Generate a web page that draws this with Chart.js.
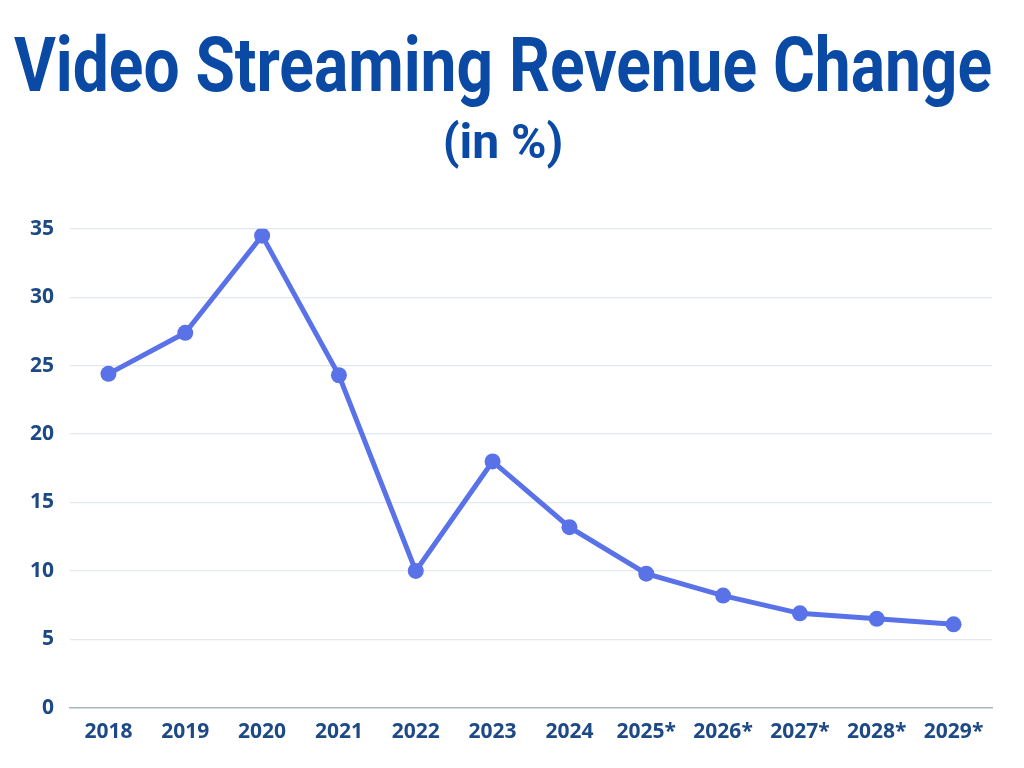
<!DOCTYPE html>
<html>
<head>
<meta charset="utf-8">
<script src="https://cdn.jsdelivr.net/npm/chart.js@4"></script>
<style>
  html, body { margin: 0; padding: 0; background: #fff; }
  #wrap { position: relative; width: 1024px; height: 768px; }
</style>
</head>
<body>
<div id="wrap"><canvas id="chart"></canvas></div>
<script>
const years = ['2018', '2019', '2020', '2021', '2022', '2023', '2024', '2025*', '2026*', '2027*', '2028*', '2029*'];
const revenueChange = [24.4, 27.4, 34.5, 24.3, 10.0, 18.0, 13.2, 9.8, 8.2, 6.9, 6.5, 6.1];
const yTicks = [0, 5, 10, 15, 20, 25, 30, 35];

const navy = '#1d4a86';
const lineBlue = '#5a72e8';

const ctx = document.getElementById('chart').getContext('2d');
new Chart(ctx, {
    type: 'line',
    data: {
        labels: years,
        datasets: [{
            label: 'Revenue change',
            data: revenueChange,
            borderColor: lineBlue,
            backgroundColor: lineBlue,
            borderWidth: 5,
            pointRadius: 8,
            pointHoverRadius: 8,
            pointBackgroundColor: lineBlue,
            pointBorderWidth: 0,
            tension: 0,
            fill: false
        }]
    },
    options: {
        responsive: true,
        maintainAspectRatio: false,
        animation: false,
        layout: {
            padding: { left: 14, right: 32, top: 10, bottom: 19 }
        },
        plugins: {
            legend: { display: false },
            tooltip: { enabled: false },
            title: {
                display: true,
                text: 'Video Streaming Revenue Change',
                color: '#0a4aa5',
                font: { family: '"Roboto", sans-serif', size: 76, weight: 'bold' },
                padding: { top: 16, bottom: 0 }
            },
            subtitle: {
                display: true,
                text: '(in %)',
                color: '#0a4aa5',
                font: { family: '"Roboto", sans-serif', size: 48, weight: 'bold' },
                padding: { top: 0, bottom: 54 }
            }
        },
        scales: {
            x: {
                offset: true,
                grid: { display: false },
                border: { display: true, color: '#a8b6c9', width: 1.5 },
                ticks: {
                    color: navy,
                    font: { family: '"Open Sans", sans-serif', size: 21, weight: 'bold' },
                    padding: 4,
                    maxRotation: 0
                }
            },
            y: {
                min: 0,
                max: 35,
                afterBuildTicks: axis => { axis.ticks = yTicks.map(v => ({ value: v })); },
                grid: { color: '#e3e7ee', lineWidth: 1.2, drawTicks: false },
                border: { display: false },
                ticks: {
                    color: navy,
                    font: { family: '"Open Sans", sans-serif', size: 21, weight: 'bold' },
                    padding: 16
                }
            }
        }
    }
});
</script>
</body>
</html>
